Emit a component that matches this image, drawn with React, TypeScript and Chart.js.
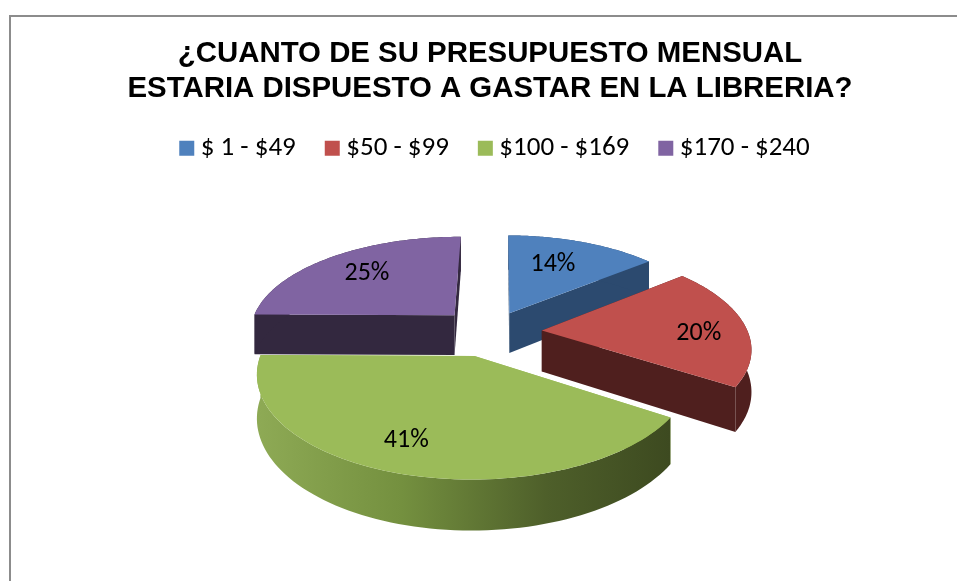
import React, { useEffect, useRef } from "react";
import { Chart, registerables } from "chart.js";

Chart.register(...registerables);

const titleLines = ["¿CUANTO DE SU PRESUPUESTO MENSUAL", "ESTARIA DISPUESTO A GASTAR EN LA LIBRERIA?"];
const categories = ["$ 1 - $49", "$50 - $99", "$100 - $169", "$170 - $240"];
const shares = [14, 20, 41, 25];
const topColors = ["#4f81bd", "#c0504d", "#9bbb59", "#8064a2"];
const wallColors = ["#2c4a6f", "#4f1f1e", "#9bbb59", "#33283f"];
const greenWallStops: [number, string][] = [[0, "#8eaa55"], [0.35, "#74903f"], [0.7, "#4e5f2a"], [1, "#3d4a20"]];
const explode = [46, 52, 52, 52];

// view settings of the 3-D look
const TILT = 0.464;
const PERSPECTIVE = 0.158;
const DEPTH = 41;
const labelRadius = [0.64, 0.76, 0.77, 0.69];
const labelTurn = [-3, 5, 4, 0];
const LEGEND_SHIFT = 8;

function pie3d() {
  return {
    id: "pie3d",
    afterLayout(chart: any) {
      chart.legend.left += LEGEND_SHIFT;
      chart.legend.right += LEGEND_SHIFT;
    },
    beforeDraw(chart: any) {
      const { ctx } = chart;
      ctx.save();
      ctx.strokeStyle = "#8c8c8c";
      ctx.lineWidth = 2;
      ctx.beginPath();
      ctx.moveTo(10, 581);
      ctx.lineTo(10, 16);
      ctx.lineTo(957, 16);
      ctx.stroke();
      ctx.restore();
    },
    beforeDatasetsDraw(chart: any) {
      const { ctx } = chart;
      const arcs = chart.getDatasetMeta(0).data as any[];
      const project = (arc: any, angle: number, frac: number) => {
        const R = arc.outerRadius;
        const mid = (arc.startAngle + arc.endAngle) / 2;
        const off = (arc.options.offset || 0) / R;
        const u = Math.cos(angle) * frac + Math.cos(mid) * off;
        const v = Math.sin(angle) * frac + Math.sin(mid) * off;
        const k = 1 / (1 - PERSPECTIVE * v);
        const x = arc.x + u * R * k;
        const y = arc.y + v * R * TILT * k;
        return { x, y, by: y + DEPTH * k };
      };
      const outline = (arc: any) => {
        const pts: any[] = [];
        const n = 80;
        for (let i = 0; i <= n; i++) {
          pts.push(project(arc, arc.startAngle + ((arc.endAngle - arc.startAngle) * i) / n, 1));
        }
        return pts;
      };
      const order = arcs
        .map((a, i) => i)
        .sort((a, b) => {
          const mid = (x: any) => Math.sin((x.startAngle + x.endAngle) / 2);
          return mid(arcs[a]) - mid(arcs[b]);
        });
      for (const i of order) {
        const arc = arcs[i];
        const edge = outline(arc);
        const tip = project(arc, arc.startAngle, 0);
        const wall = (pts: any[], fill: any) => {
          ctx.beginPath();
          pts.forEach((p, j) => (j ? ctx.lineTo(p.x, p.y) : ctx.moveTo(p.x, p.y)));
          [...pts].reverse().forEach((p) => ctx.lineTo(p.x, p.by));
          ctx.closePath();
          ctx.fillStyle = fill;
          ctx.fill();
        };
        wall([tip, edge[0]], wallColors[i]);
        wall([tip, edge[edge.length - 1]], wallColors[i]);
        let side: any = wallColors[i];
        if (i === 2) {
          const xs = edge.map((p) => p.x);
          side = ctx.createLinearGradient(Math.min(...xs), 0, Math.max(...xs), 0);
          greenWallStops.forEach(([s, c]) => side.addColorStop(s, c));
        }
        wall(edge, side);
        ctx.beginPath();
        ctx.moveTo(tip.x, tip.y);
        edge.forEach((p) => ctx.lineTo(p.x, p.y));
        ctx.closePath();
        ctx.fillStyle = arc.options.backgroundColor;
        ctx.fill();
      }
      ctx.save();
      ctx.fillStyle = "#000";
      ctx.font = "26px Carlito, Lato, 'Open Sans', sans-serif";
      ctx.textAlign = "center";
      ctx.textBaseline = "middle";
      arcs.forEach((arc, i) => {
        const mid = (arc.startAngle + arc.endAngle) / 2 + (labelTurn[i] * Math.PI) / 180;
        const p = project(arc, mid, labelRadius[i]);
        ctx.fillText(shares[i] + "%", p.x, p.y);
      });
      ctx.restore();
      return false;
    },
  };
}

export default function App() {
  const ref = useRef<HTMLCanvasElement>(null);
  useEffect(() => {
    const chart = new Chart(ref.current as HTMLCanvasElement, {
      type: "pie",
      data: {
        labels: categories,
        datasets: [
          {
            data: shares,
            backgroundColor: topColors,
            borderWidth: 0,
            offset: explode,
            radius: 206,
          } as any,
        ],
      },
      plugins: [pie3d()],
      options: {
        responsive: false,
        animation: false,
        rotation: 0.5,
        layout: { padding: { left: 23, right: 0, top: 0, bottom: 89 } },
        plugins: {
          tooltip: { enabled: false },
          title: {
            display: true,
            text: titleLines,
            color: "#000",
            font: { family: "'Liberation Sans', Arial, sans-serif", size: 29.4, weight: "bold", lineHeight: 1.17 },
            padding: { top: 37, bottom: -7 },
          },
          legend: {
            position: "top",
            labels: {
              color: "#000",
              font: { family: "Carlito, Lato, 'Open Sans', sans-serif", size: 27 },
              boxWidth: 1,
              boxHeight: 1,
              padding: 36,
              generateLabels: () =>
                categories.map((text, i) => ({
                  text,
                  fillStyle: topColors[i],
                  strokeStyle: topColors[i],
                  lineWidth: 14,
                  hidden: false,
                  index: i,
                })),
            },
          },
        },
      } as any,
    });
    return () => chart.destroy();
  }, []);
  return (
    <div style={{ position: "absolute", left: 0, top: 0, width: 957, height: 581 }}>
      <canvas ref={ref} width={957} height={581} style={{ display: "block" }} />
    </div>
  );
}
